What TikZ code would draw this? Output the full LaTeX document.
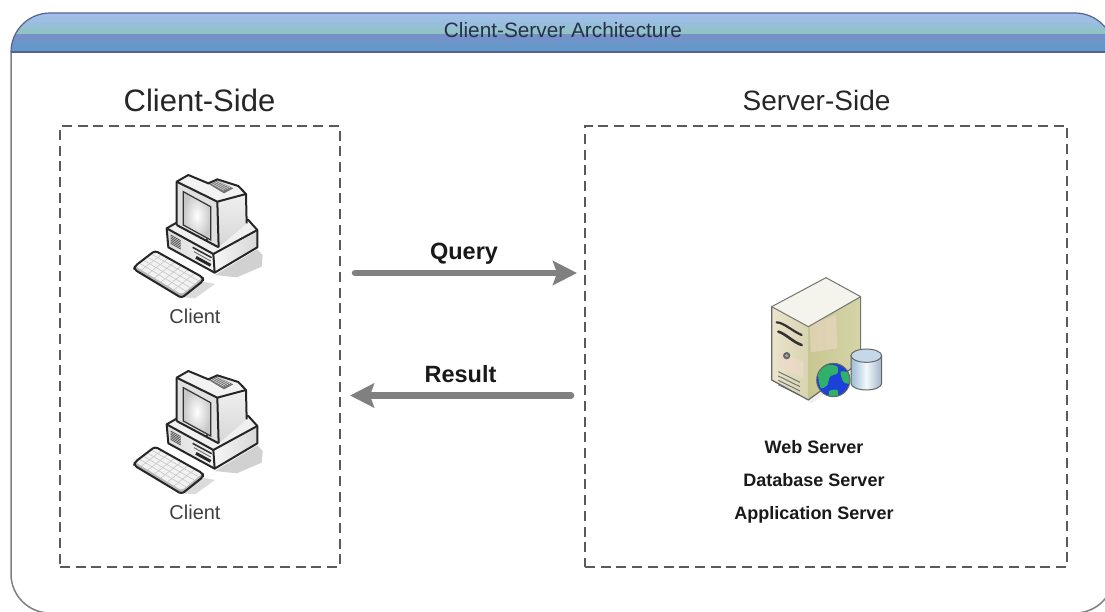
\documentclass[tikz,border=0pt]{standalone}
\usepackage{fontspec}
\setmainfont{Liberation Sans}
\usetikzlibrary{arrows.meta,calc}
\definecolor{hdrA}{HTML}{A2C0EC}
\definecolor{hdrM}{HTML}{98BEDC}
\definecolor{hdrB}{HTML}{8DC6BC}
\definecolor{hdrC}{HTML}{7A8FC8}
\definecolor{hdrD}{HTML}{5A9CC8}
\definecolor{hdrline}{HTML}{5A5F92}
\definecolor{hdrtext}{HTML}{26304E}
\definecolor{flow}{HTML}{808080}
\definecolor{dashc}{HTML}{5A5A5A}
\definecolor{srvTop}{HTML}{F4F4EC}
\definecolor{srvLa}{HTML}{EAE4CC}
\definecolor{srvLb}{HTML}{D8D4B0}
\definecolor{srvRa}{HTML}{C8C690}
\definecolor{srvRb}{HTML}{D4D4A8}
\definecolor{srvPink}{HTML}{EEDACA}
\definecolor{srvBtn}{HTML}{A0A8B8}
\definecolor{cylA}{HTML}{9CBCD4}
\definecolor{cylB}{HTML}{A0B4C8}
\definecolor{cylM}{HTML}{F2F8FC}
\definecolor{cylT}{HTML}{C4D8EA}
\definecolor{globeB}{HTML}{1C40D8}
\definecolor{globeG}{HTML}{30B068}
\tikzset{
  dashbox/.style={draw=dashc,line width=1.8pt,dash pattern=on 10pt off 5.7pt},
  flowarrow/.style={draw=flow,line width=6.5pt,line cap=round,-{Stealth[length=24pt,width=24pt,inset=4pt]}},
  heading/.style={font=\fontsize{31}{31}\selectfont,text=black!85,inner sep=0pt,anchor=base},
  small/.style={font=\fontsize{20}{20}\selectfont,text=black!75,inner sep=0pt,anchor=base},
  flowlabel/.style={font=\fontsize{23.5}{24}\selectfont\bfseries,text=black!90,inner sep=0pt,anchor=base},
  srvlabel/.style={font=\fontsize{18}{18}\selectfont\bfseries,text=black!90,inner sep=0pt,anchor=base},
  edge/.style={draw=black!85,line width=2pt,line join=round},
}
\newcommand{\clienticon}[1]{%
\begin{scope}[shift={(120,#1)},x=0.3333pt,y=-0.3333pt]
  % shadow
  \fill[black!18] (285,345) -- (412,268) -- (428,285) -- (425,320) -- (350,352) -- cycle;
  \fill[black!14] (190,412) -- (250,365) -- (285,372) -- (225,415) -- cycle;
  % base
  \fill[black!6] (140,205) -- (175,185) -- (385,180) -- (412,210) -- (280,282) -- cycle;
  \shade[left color=black!14,right color=black!4] (140,205) -- (280,282) -- (284,338) -- (145,262) -- cycle;
  \shade[left color=black!3,right color=black!16] (280,282) -- (412,210) -- (412,262) -- (284,338) -- cycle;
  \foreach \t in {0,5,...,25}
    \draw[black!65,line width=.8pt] (152,225+\t) -- (182,242+\t);
  \draw[black!80,line width=1.6pt] (218,262) -- (275,293);
  \draw[black!85,line width=3pt] (228,292) -- (272,316);
  \draw[black!55,line width=1pt] (222,275) -- (272,303);
  \path[edge] (140,205) -- (280,282) -- (412,210);
  \path[edge] (280,282) -- (284,338);
  \path[edge] (140,205) -- (175,185) -- (385,180) -- (412,210) -- (412,262) -- (284,338) -- (145,262) -- cycle;
  % monitor
  \fill[black!5] (170,65) -- (205,45) -- (265,70) -- (292,58) -- (355,78) -- (378,102) -- (292,125) -- cycle;
  \shade[top color=black!6,bottom color=black!16] (292,125) -- (378,102) -- (380,190) -- (296,262) -- cycle;
  \fill[black!12] (170,65) -- (292,125) -- (296,262) -- (170,195) -- cycle;
  \shade[inner color=white,outer color=black!22] (190,95) -- (272,140) -- (272,240) -- (190,195) -- cycle;
  \draw[black!80,line width=1.2pt] (190,95) -- (272,140) -- (272,240) -- (190,195) -- cycle;
  \fill[black!55] (266,72) -- (292,62) -- (340,85) -- (312,100) -- cycle;
  \foreach \t in {0,6,...,24}
    \draw[black!15,line width=.6pt] (272+\t,69-.4*\t) -- (312+\t,91-.4*\t);
  \fill[black!75] (260,240) circle (5);
  \path[edge] (170,65) -- (292,125) -- (378,102);
  \path[edge] (292,125) -- (296,262);
  \path[edge] (170,195) -- (170,65) -- (205,45) -- (265,70) -- (292,58) -- (355,78) -- (378,102) -- (380,190);
  \path[edge] (170,195) -- (296,262);
  % keyboard
  \coordinate (kA) at (45,318);
  \coordinate (kB) at (105,272);
  \coordinate (kC) at (248,352);
  \coordinate (kD) at (185,403);
  \fill[black!28,rounded corners=3pt] (40,318) -- (45,330) -- (185,414) -- (250,362) -- (248,350) -- cycle;
  \fill[black!5,rounded corners=3pt] (kA) -- (kB) -- (kC) -- (kD) -- cycle;
  \foreach \t in {.14,.28,...,.9}
    \draw[black!22,line width=.6pt] ($(kA)!\t!(kD)$) -- ($(kB)!\t!(kC)$);
  \foreach \t in {.2,.4,.6,.8}
    \draw[black!22,line width=.6pt] ($(kA)!\t!(kB)$) -- ($(kD)!\t!(kC)$);
  \draw[edge,rounded corners=3pt] (kA) -- (kB) -- (kC) -- (250,362) -- (185,414) -- (42,328) -- cycle;
\end{scope}}
\newcommand{\servericon}{%
\begin{scope}[shift={(750,265)},x=0.3333pt,y=-0.3333pt]
  \fill[black!6] (175,410) -- (335,295) -- (345,300) -- (185,415) -- cycle;
  \fill[srvTop] (65,125) -- (228,38) -- (332,95) -- (175,185) -- cycle;
  \shade[left color=srvLa,right color=srvLb] (65,125) -- (175,185) -- (175,405) -- (65,345) -- cycle;
  \shade[left color=srvRa,right color=srvRb] (175,185) -- (332,95) -- (332,290) -- (175,405) -- cycle;
  \fill[srvPink,opacity=.55] (180,178) -- (258,150) -- (262,250) -- (182,262) -- cycle;
  \fill[srvPink,opacity=.7] (85,260) -- (160,290) -- (160,340) -- (85,300) -- cycle;
  \draw[black!80,line width=2.2pt,line cap=round] (80,172) .. controls (100,172) and (130,200) .. (155,210);
  \draw[black!80,line width=2.6pt,line cap=round] (85,200) .. controls (105,205) and (130,232) .. (155,240);
  \fill[black!60] (110,272) circle (11);
  \fill[srvBtn] (110,272) circle (5);
  \foreach \t in {0,13,26,39}
    \draw[black!55,line width=1pt] (85,320+\t) -- (150,352+\t);
  \draw[black!55,line width=1pt] (65,125) -- (228,38) -- (332,95) -- (332,290);
  \draw[black!55,line width=1pt] (65,125) -- (175,185) -- (332,95);
  \draw[black!60,line width=1.2pt] (65,125) -- (65,345) -- (175,405) -- (332,290);
  % cylinder
  \shade[left color=cylA,right color=cylB,middle color=cylM] (303,272) -- (303,355) arc[start angle=180,end angle=0,x radius=46,y radius=20] -- (395,272) -- cycle;
  \fill[cylT] (349,272) ellipse [x radius=46,y radius=20];
  \draw[black!60,line width=1pt] (303,272) -- (303,355) arc[start angle=180,end angle=0,x radius=46,y radius=20] -- (395,272);
  \draw[black!60,line width=1pt] (349,272) ellipse [x radius=46,y radius=20];
  % globe
  \fill[globeB] (250,345) circle (50);
  \begin{scope}
    \clip (250,345) circle (50);
    \fill[globeG] plot[smooth cycle] coordinates {(205,320) (235,300) (262,305) (262,325) (240,335) (232,360) (212,368)};
    \fill[globeG] plot[smooth cycle] coordinates {(272,320) (298,325) (300,355) (280,350)};
    \fill[globeG] plot[smooth cycle] coordinates {(238,378) (262,375) (262,398) (240,398)};
  \end{scope}
  \draw[black!60,line width=1pt] (250,345) circle (50);
\end{scope}}
\begin{document}
\begin{tikzpicture}[x=1pt,y=-1pt]
\useasboundingbox (0,0) rectangle (1105,611);
\fill[white] (0,0) rectangle (1105,611);
\clip (0,0) rectangle (1105,611);
% frame
\draw[black!50,line width=1.5pt] (11,52) -- (11,574) arc[start angle=180,end angle=90,radius=39] -- (1075,613) arc[start angle=90,end angle=0,radius=39] -- (1114,52);
% header band
\begin{scope}
  \clip (11,52) arc[start angle=180,end angle=270,radius=39] -- (1075,13) arc[start angle=270,end angle=360,radius=39] -- cycle;
  \shade[top color=hdrA,bottom color=hdrM] (0,13) rectangle (1115,24);
  \shade[top color=hdrM,bottom color=hdrB] (0,24) rectangle (1115,34);
  \shade[top color=hdrC,bottom color=hdrD] (0,34) rectangle (1115,52);
\end{scope}
\draw[hdrline,line width=1.2pt] (11,52) arc[start angle=180,end angle=270,radius=39] -- (1075,13) arc[start angle=270,end angle=360,radius=39];
\draw[hdrline,line width=1.5pt] (11,52) -- (1105,52);
\node[font=\fontsize{20.8}{21}\selectfont,text=hdrtext,inner sep=0pt,anchor=base] (title) at (563,37) {Client-Server Architecture};
% boxes
\node[dashbox,inner sep=0pt,minimum width=280pt,minimum height=441pt] (clientbox) at (200,346.5) {};
\node[dashbox,inner sep=0pt,minimum width=482pt,minimum height=441pt] (serverbox) at (826,346.5) {};
\node[heading] (clienthead) at (199.5,111) {Client-Side};
\node[heading,font=\fontsize{28}{28}\selectfont] (serverhead) at (816.5,110.5) {Server-Side};
% icons
\clienticon{160}
\clienticon{356}
\servericon
\node[small] (client1) at (195,323) {Client};
\node[small] (client2) at (195,519) {Client};
\node[srvlabel] (web) at (814,453) {Web Server};
\node[srvlabel] (db) at (814,486) {Database Server};
\node[srvlabel] (app) at (814,519) {Application Server};
% connectors
\coordinate (qs) at (355,273);
\coordinate (qe) at (577,273);
\coordinate (rs) at (571,395.5);
\coordinate (re) at (350,395.5);
\draw[flowarrow] (qs) -- (qe);
\draw[flowarrow] (rs) -- (re);
\node[flowlabel] (query) at (464,259) {Query};
\node[flowlabel] (result) at (460.5,382) {Result};
\end{tikzpicture}
\end{document}
